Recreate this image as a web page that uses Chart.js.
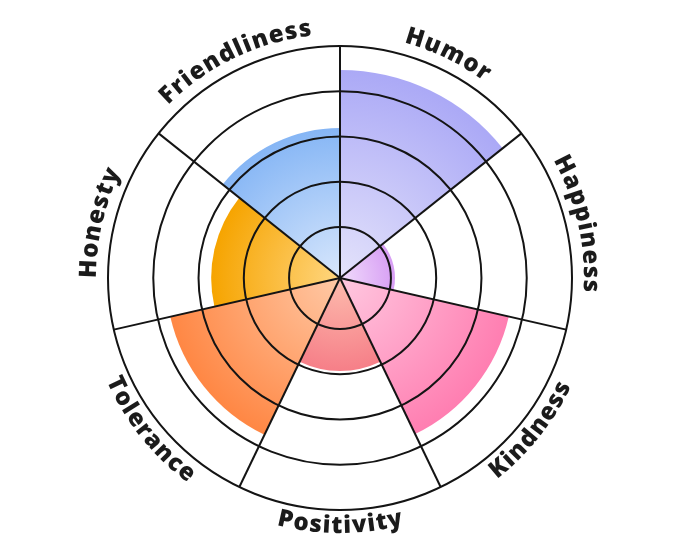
<!DOCTYPE html>
<html><head><meta charset="utf-8">
<script src="https://cdn.jsdelivr.net/npm/chart.js@4/dist/chart.umd.min.js"></script>
<style>html,body{margin:0;padding:0;background:#fff}#wrap{width:680px;height:557px;position:relative}</style>
</head><body><div id="wrap"><canvas id="c"></canvas></div>
<script>
const categories = ['Humor', 'Happiness', 'Kindness', 'Positivity', 'Tolerance', 'Honesty', 'Friendliness'];
const values = [4.47, 1.09, 3.70, 1.93, 3.72, 2.72, 3.19];
const ringTicks = [1, 2, 3, 4, 5];
const innerColors = ['#e4e3fb', '#f1dcfb', '#ffc8e0', '#fdbcae', '#ffc9a6', '#ffd680', '#d8e7fc'];
const outerColors = ['#aba9f6', '#d79ef4', '#ff7eb1', '#f67f88', '#ff8744', '#f6a400', '#86b6f5'];

function segFill(ctx) {
  const chart = ctx.chart;
  const s = chart.scales.r;
  const i = ctx.dataIndex;
  if (!chart.chartArea || !s || s.xCenter === undefined) return outerColors[i];
  const r = Math.max(1, s.getDistanceFromCenterForValue(values[i]));
  const g = chart.ctx.createRadialGradient(s.xCenter, s.yCenter, 0, s.xCenter, s.yCenter, r);
  g.addColorStop(0, innerColors[i]);
  g.addColorStop(1, outerColors[i]);
  return g;
}

const curvedLabels = {
  id: 'curvedLabels',
  afterDraw(chart) {
    const s = chart.scales.r;
    const ctx = chart.ctx;
    const cx = s.xCenter, cy = s.yCenter;
    const n = categories.length;
    const half = Math.PI / n;
    const spacing = 1.2;
    ctx.save();
    ctx.font = '800 24px "Open Sans", "DejaVu Sans", sans-serif';
    ctx.fillStyle = '#1b1b1b';
    ctx.textAlign = 'center';
    ctx.textBaseline = 'alphabetic';
    categories.forEach((label, i) => {
      const mid = s.getIndexAngle(i) + half;
      const chars = label.split('');
      const widths = chars.map(c => ctx.measureText(c).width + spacing);
      const total = widths.reduce((a, b) => a + b, 0) - spacing;
      const upper = Math.cos(mid) >= 0;
      const R = upper ? 244 : 255;
      let cum = 0;
      chars.forEach((ch, k) => {
        const w = widths[k];
        const off = (cum + (w - spacing) / 2 - total / 2) / R;
        const a = upper ? mid + off : mid - off;
        const x = cx + R * Math.sin(a);
        const y = cy - R * Math.cos(a);
        ctx.save();
        ctx.translate(x, y);
        ctx.rotate(upper ? a : a - Math.PI);
        ctx.fillText(ch, 0, 0);
        ctx.restore();
        cum += w;
      });
    });
    ctx.restore();
  }
};

new Chart(document.getElementById('c'), {
  type: 'polarArea',
  data: {
    labels: categories,
    datasets: [{
      data: values,
      backgroundColor: segFill,
      borderWidth: 0
    }]
  },
  options: {
    responsive: true,
    maintainAspectRatio: false,
    animation: false,
    layout: { padding: 46 },
    plugins: { legend: { display: false }, tooltip: { enabled: false } },
    scales: {
      r: {
        min: -0.125,
        max: 5,
        startAngle: 0,
        afterBuildTicks: (scale) => { scale.ticks = ringTicks.map(v => ({ value: v })); },
        ticks: { display: false },
        pointLabels: { display: false },
        grid: { z: 1, circular: true, color: '#141414', lineWidth: 2 },
        angleLines: { display: true, color: '#141414', lineWidth: 2 }
      }
    }
  },
  plugins: [curvedLabels]
});
</script>
</body></html>
